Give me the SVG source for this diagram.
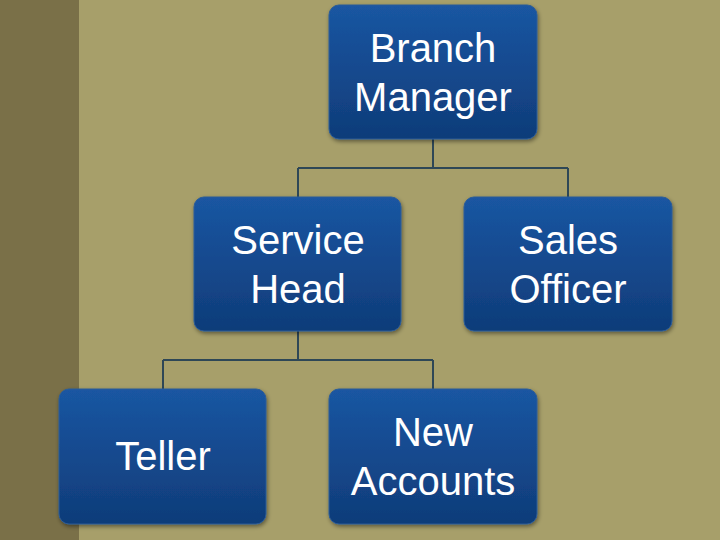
<svg xmlns="http://www.w3.org/2000/svg" width="720" height="540" viewBox="0 0 720 540">
<defs>
<linearGradient id="g" x1="0" y1="0" x2="0" y2="1">
<stop offset="0" stop-color="#1a56a2"/>
<stop offset="1" stop-color="#0f3c79"/>
</linearGradient>
<filter id="sh" x="-10%" y="-10%" width="125%" height="125%">
<feDropShadow dx="1" dy="2" stdDeviation="2" flood-color="#000" flood-opacity="0.45"/>
</filter>
<style>
.box{fill:url(#g);stroke:#2a5c98;stroke-width:1;filter:url(#sh)}
.t{font-family:"Liberation Sans",Arial,sans-serif;font-size:40px;fill:#ffffff;text-anchor:middle}
.c{fill:none;stroke:#2e4756;stroke-width:2}
</style>
</defs>
<rect x="0" y="0" width="720" height="540" fill="#a79f6a"/>
<rect x="0" y="0" width="79" height="540" fill="#7a7048"/>
<g id="connectors">
<path class="c" d="M433 139V168M298 168H568M298 168V197M568 168V197"/>
<path class="c" d="M298 331V360M163 360H433M163 360V389M433 360V389"/>
</g>
<g id="branch-manager">
<rect class="box" x="329" y="5" width="208" height="134" rx="10"/>
<text class="t" x="433" y="62">Branch</text>
<text class="t" x="433" y="111">Manager</text>
</g>
<g id="service-head">
<rect class="box" x="194" y="197" width="207" height="134" rx="10"/>
<text class="t" x="298" y="254">Service</text>
<text class="t" x="298" y="303">Head</text>
</g>
<g id="sales-officer">
<rect class="box" x="464" y="197" width="208" height="134" rx="10"/>
<text class="t" x="568" y="254">Sales</text>
<text class="t" x="568" y="303">Officer</text>
</g>
<g id="teller">
<rect class="box" x="59" y="389" width="207" height="135" rx="10"/>
<text class="t" x="163" y="470">Teller</text>
</g>
<g id="new-accounts">
<rect class="box" x="329" y="389" width="208" height="135" rx="10"/>
<text class="t" x="433" y="446">New</text>
<text class="t" x="433" y="495">Accounts</text>
</g>
</svg>
